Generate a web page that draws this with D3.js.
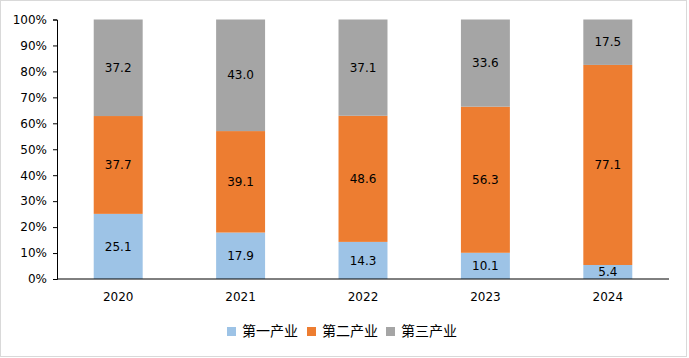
<!DOCTYPE html>
<html>
<head>
<meta charset="utf-8">
<script src="https://cdn.jsdelivr.net/npm/d3@7"></script>
<style>
  body { margin: 0; background: #fff; }
  svg { display: block; }
</style>
</head>
<body>
<div id="chart"></div>
<script>
// Data (percent shares).
const years = ["2020", "2021", "2022", "2023", "2024"];
const seriesNames = ["第一产业", "第二产业", "第三产业"];
const primary = [25.1, 17.9, 14.3, 10.1, 5.4];
const secondary = [37.7, 39.1, 48.6, 56.3, 77.1];
const tertiary = [37.2, 43.0, 37.1, 33.6, 17.5];
const yTicks = [0, 10, 20, 30, 40, 50, 60, 70, 80, 90, 100];

const colors = ["#9DC3E6", "#ED7D31", "#A5A5A5"];

const width = 689, height = 358;
const margin = {top: 19.5, right: 20, bottom: 79, left: 57};
const font = "'DejaVu Sans', 'Noto Sans CJK SC', sans-serif";

// Build rows for d3.stack.
const rows = years.map((y, i) => ({
  year: y,
  [seriesNames[0]]: primary[i],
  [seriesNames[1]]: secondary[i],
  [seriesNames[2]]: tertiary[i]
}));

const stack = d3.stack().keys(seriesNames);
const layers = stack(rows);

const svg = d3.select("#chart").append("svg")
    .attr("width", width)
    .attr("height", height);

// Outer border.
svg.append("rect")
    .attr("x", 0.5).attr("y", 0.5)
    .attr("width", width - 3).attr("height", height - 2)
    .attr("fill", "#fff")
    .attr("stroke", "#d9d9d9");

const x = d3.scaleBand()
    .domain(years)
    .range([margin.left, width - margin.right])
    .paddingInner(0.6)
    .paddingOuter(0.3);

const y = d3.scaleLinear()
    .domain([0, 100])
    .range([height - margin.bottom, margin.top]);

// Bars.
const g = svg.append("g");
layers.forEach((layer, li) => {
  g.selectAll(null)
    .data(layer)
    .enter().append("rect")
      .attr("x", d => x(d.data.year))
      .attr("y", d => y(d[1]))
      .attr("width", x.bandwidth())
      .attr("height", d => y(d[0]) - y(d[1]))
      .attr("fill", colors[li]);

  g.selectAll(null)
    .data(layer)
    .enter().append("text")
      .attr("x", d => x(d.data.year) + x.bandwidth() / 2)
      .attr("y", d => (y(d[0]) + y(d[1])) / 2)
      .attr("dy", "0.35em")
      .attr("text-anchor", "middle")
      .style("font", `12px ${font}`)
      .attr("fill", "#000")
      .text(d => (d[1] - d[0]).toFixed(1));
});

// Y axis.
const yAxis = svg.append("g")
    .attr("transform", `translate(${margin.left},0)`)
    .call(d3.axisLeft(y).tickValues(yTicks).tickFormat(d => d + "%").tickSize(4).tickPadding(6));
yAxis.select(".domain").attr("stroke", "#000");
yAxis.selectAll(".tick line").attr("stroke", "#000");
yAxis.selectAll("text").style("font", `12px ${font}`).attr("fill", "#000");

// X axis.
const xAxis = svg.append("g")
    .attr("transform", `translate(0,${height - margin.bottom})`)
    .call(d3.axisBottom(x).tickSize(0).tickPadding(13));
xAxis.select(".domain").attr("stroke", "#000")
    .attr("d", `M${margin.left},0H${width - margin.right}`);
xAxis.selectAll("text").style("font", `12px ${font}`).attr("fill", "#000");

// Legend.
const legendX = [227, 307, 386];
const legend = svg.append("g");
seriesNames.forEach((name, i) => {
  legend.append("rect")
      .attr("x", legendX[i]).attr("y", 327)
      .attr("width", 9).attr("height", 9)
      .attr("fill", colors[i]);
  legend.append("text")
      .attr("x", legendX[i] + 15).attr("y", 331.5)
      .attr("dy", "0.35em")
      .style("font", `14px 'Noto Sans CJK SC', sans-serif`)
      .attr("fill", "#000")
      .text(name);
});
</script>
</body>
</html>
